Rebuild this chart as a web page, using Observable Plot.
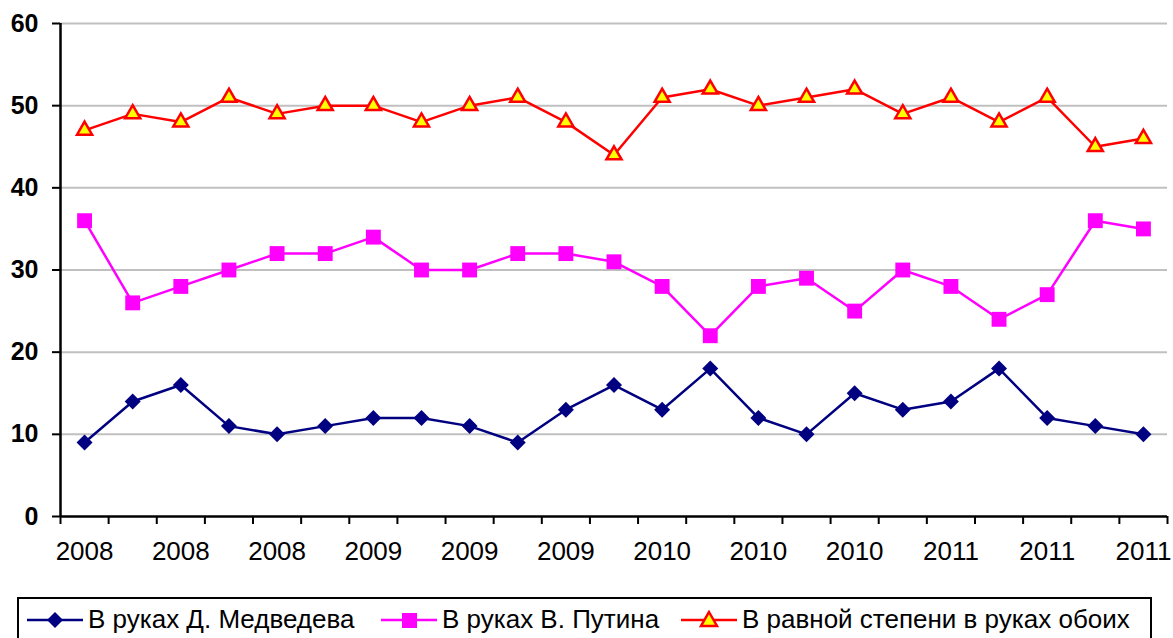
<!DOCTYPE html>
<html>
<head>
<meta charset="utf-8">
<script src="https://cdn.jsdelivr.net/npm/d3@7"></script>
<script src="https://cdn.jsdelivr.net/npm/@observablehq/plot@0.6"></script>
<style>
  html, body { margin: 0; padding: 0; background: #fff; }
  #wrap { position: relative; width: 1173px; height: 638px; overflow: hidden; font-family: "Liberation Sans", Arial, sans-serif; }
  #legend { position: absolute; left: 17px; top: 597px; width: 1135px; height: 60px; border: 2px solid #000; box-sizing: border-box; background: #fff; }
  .item { position: absolute; top: 5px; display: flex; align-items: center; font-size: 26px; color: #000; white-space: nowrap; }
  .item svg { margin-right: 5px; }
</style>
</head>
<body>
<div id="wrap">
  <div id="chart"></div>
  <div id="legend"></div>
</div>
<script>
// Tick labels shown under every other point
const tickLabels = ["2008","2008","2008","2009","2009","2009","2010","2010","2010","2011","2011","2011"];
// Series values (23 survey points)
const medvedev = [9, 14, 16, 11, 10, 11, 12, 12, 11, 9, 13, 16, 13, 18, 12, 10, 15, 13, 14, 18, 12, 11, 10];
const putin    = [36, 26, 28, 30, 32, 32, 34, 30, 30, 32, 32, 31, 28, 22, 28, 29, 25, 30, 28, 24, 27, 36, 35];
const both     = [47, 49, 48, 51, 49, 50, 50, 48, 50, 51, 48, 44, 51, 52, 50, 51, 52, 49, 51, 48, 51, 45, 46];
const seriesNames = ["В руках Д. Медведева", "В руках В. Путина", "В равной степени в руках обоих"];

const n = medvedev.length;
const idx = d3.range(n);
const toRows = (vals) => vals.map((v, i) => ({i, v}));
const boundaries = d3.range(n + 1).map(k => k - 0.5);
const labelPos = idx.filter(i => i % 2 === 0);

const font = '"Liberation Sans", Arial, sans-serif';

const chart = Plot.plot({
  width: 1173,
  height: 590,
  marginLeft: 60,
  marginRight: 6,
  marginTop: 23,
  marginBottom: 74,
  style: {fontFamily: font, background: "#fff", overflow: "visible"},
  x: {type: "linear", domain: [-0.5, n - 0.5]},
  y: {domain: [0, 60]},
  marks: [
    Plot.ruleY([10, 20, 30, 40, 50, 60], {stroke: "#c0c0c0", strokeWidth: 2}),
    Plot.axisY({ticks: [0, 10, 20, 30, 40, 50, 60], tickSize: 8, tickPadding: 14, fontSize: 25, fontWeight: "bold", strokeWidth: 2, stroke: "#000", label: null, tickFormat: d => String(d)}),
    Plot.axisX({ticks: boundaries, tickSize: 8, tickFormat: () => "", strokeWidth: 2, stroke: "#000", label: null}),
    Plot.axisX({ticks: labelPos, tickSize: 0, tickPadding: 25, fontSize: 26, tickFormat: i => tickLabels[i / 2], label: null}),
    Plot.ruleX([-0.5], {stroke: "#000", strokeWidth: 2.5}),
    Plot.ruleY([0], {stroke: "#000", strokeWidth: 2.5}),
    Plot.line(toRows(medvedev), {x: "i", y: "v", stroke: "#000080", strokeWidth: 2.5}),
    Plot.line(toRows(putin), {x: "i", y: "v", stroke: "#FF00FF", strokeWidth: 2.5}),
    Plot.line(toRows(both), {x: "i", y: "v", stroke: "#FF0000", strokeWidth: 2.5}),
    Plot.dot(toRows(medvedev), {x: "i", y: "v", symbol: "diamond2", r: 7.2, fill: "#000080", stroke: "none"}),
    Plot.dot(toRows(putin), {x: "i", y: "v", symbol: "square", r: 8.4, fill: "#FF00FF", stroke: "none"}),
    Plot.dot(toRows(both), {x: "i", y: "v", symbol: "triangle", r: 5.6, fill: "#FFFF00", stroke: "#FF0000", strokeWidth: 2.5})
  ]
});
document.getElementById("chart").appendChild(chart);

// Legend
const legend = document.getElementById("legend");
const swatches = [
  {name: seriesNames[0], color: "#000080", left: 8,
   marker: '<path d="M28,2 L36,10 L28,18 L20,10 Z" fill="#000080"/>'},
  {name: seriesNames[1], color: "#FF00FF", left: 362,
   marker: '<rect x="21" y="3" width="15" height="15" fill="#FF00FF"/>'},
  {name: seriesNames[2], color: "#FF0000", left: 662,
   marker: '<path d="M28,2 L36,16 L20,16 Z" fill="#FFFF00" stroke="#FF0000" stroke-width="2.5"/>'}
];
for (const s of swatches) {
  const div = document.createElement("div");
  div.className = "item";
  div.style.left = s.left + "px";
  div.innerHTML = `<svg width="56" height="20"><line x1="0" y1="10" x2="56" y2="10" stroke="${s.color}" stroke-width="2.5"/>${s.marker}</svg><span>${s.name}</span>`;
  legend.appendChild(div);
}
</script>
</body>
</html>
